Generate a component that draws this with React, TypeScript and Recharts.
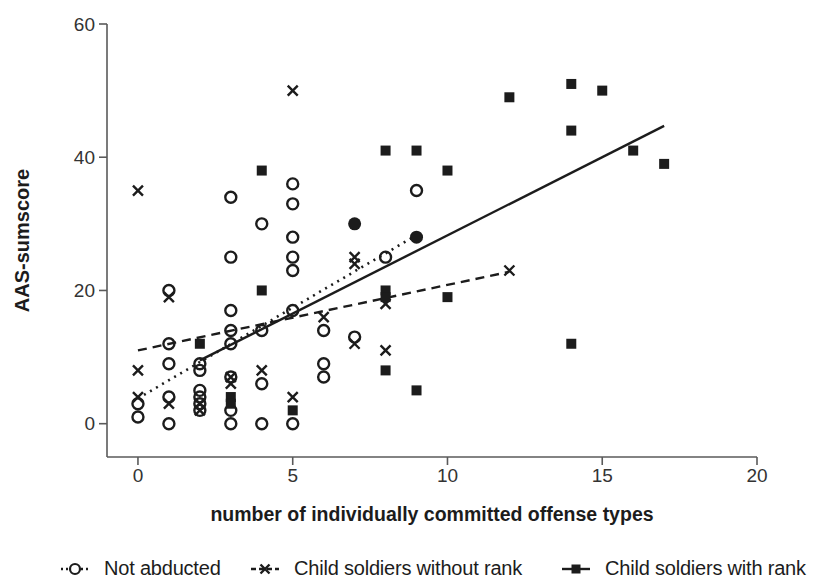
import { ScatterChart, Scatter, XAxis, YAxis, Legend } from "recharts";

const ink = "#1c1c1c";
const axisGray = "#5a5a5a";
const font = "'Liberation Sans', Arial, sans-serif";

// [offense types, AAS-sumscore]
const notAbducted = [
  [0, 3], [0, 1],
  [1, 20], [1, 12], [1, 9], [1, 4], [1, 0],
  [2, 9], [2, 8], [2, 5], [2, 4], [2, 3], [2, 2],
  [3, 34], [3, 25], [3, 17], [3, 14], [3, 12], [3, 7], [3, 2], [3, 0],
  [4, 30], [4, 14], [4, 6], [4, 0],
  [5, 36], [5, 33], [5, 28], [5, 25], [5, 23], [5, 17], [5, 0],
  [6, 14], [6, 9], [6, 7],
  [7, 13], [8, 25], [9, 35],
];
const withoutRank = [
  [0, 35], [0, 8], [0, 4],
  [1, 19], [1, 3],
  [2, 3], [2, 2],
  [3, 7], [3, 6],
  [4, 8],
  [5, 50], [5, 4],
  [6, 16],
  [7, 25], [7, 24], [7, 12],
  [8, 18], [8, 11],
  [12, 23],
];
const withRank = [
  [2, 12], [3, 4], [3, 3], [4, 38], [4, 20], [5, 2],
  [8, 41], [8, 20], [8, 19], [8, 8], [9, 41], [9, 5],
  [10, 38], [10, 19], [12, 49], [14, 51], [14, 44], [14, 12],
  [15, 50], [16, 41], [17, 39],
];
// overlapping points drawn filled in the original
const overlapping = [[7, 30], [9, 28]];

// regression line end points
const fitNotAbducted = [[0, 3.8], [9, 28.3]];
const fitWithoutRank = [[0, 11], [12, 22.8]];
const fitWithRank = [[2, 9.5], [17, 44.7]];

const xTicks = [0, 5, 10, 15, 20];
const yTicks = [0, 20, 40, 60];

const toPts = (arr: number[][]) => arr.map(([x, y]) => ({ x, y }));

const OpenCircle = (p: any) => (
  <circle cx={p.cx} cy={p.cy} r={5.5} fill="none" stroke={ink} strokeWidth={2.4} />
);
const FilledCircle = (p: any) => <circle cx={p.cx} cy={p.cy} r={6.5} fill={ink} />;
const Cross = (p: any) => (
  <path
    d={`M${p.cx - 5},${p.cy - 5}L${p.cx + 5},${p.cy + 5}M${p.cx + 5},${p.cy - 5}L${p.cx - 5},${p.cy + 5}`}
    stroke={ink}
    strokeWidth={2.4}
    fill="none"
  />
);
const Square = (p: any) => <rect x={p.cx - 5} y={p.cy - 5} width={10} height={10} fill={ink} />;
const Nothing = () => <g />;

const legendItems = [
  { label: "Not abducted", dash: "2 3", mark: "circle", width: 190 },
  { label: "Child soldiers without rank", dash: "5 3", mark: "cross", width: 311 },
  { label: "Child soldiers with rank", dash: "", mark: "square", width: 256 },
];

function LegendIcon({ dash, mark }: { dash: string; mark: string }) {
  return (
    <svg width={30} height={20} style={{ marginRight: 14 }}>
      <line x1={1} y1={10} x2={29} y2={10} stroke={ink} strokeWidth={2.4} strokeDasharray={dash || undefined} />
      {mark === "circle" && <circle cx={15} cy={10} r={5} fill="#fff" stroke={ink} strokeWidth={2.2} />}
      {mark === "cross" && <path d="M10.5,5.5L19.5,14.5M19.5,5.5L10.5,14.5" stroke={ink} strokeWidth={2.4} />}
      {mark === "square" && <rect x={10.5} y={5.5} width={9} height={9} fill={ink} />}
    </svg>
  );
}

function renderLegend() {
  return (
    <div style={{ display: "flex", alignItems: "center", paddingLeft: 60, fontFamily: font, fontSize: 20, color: ink, whiteSpace: "nowrap" }}>
      {legendItems.map((it) => (
        <div key={it.label} style={{ display: "flex", alignItems: "center", width: it.width }}>
          <LegendIcon dash={it.dash} mark={it.mark} />
          <span style={{ letterSpacing: -0.2 }}>{it.label}</span>
        </div>
      ))}
    </div>
  );
}

export default function App() {
  return (
    <div style={{ position: "absolute", left: 0, top: 0, background: "#fff" }}>
      <ScatterChart width={817} height={580} margin={{ top: 24, right: 60, bottom: 0, left: 0 }}>
        <XAxis
          type="number"
          dataKey="x"
          domain={[-1, 20]}
          ticks={xTicks}
          allowDataOverflow
          height={123}
          tickSize={8}
          tickMargin={4}
          stroke={axisGray}
          strokeWidth={1.6}
          tick={{ fill: "#333", fontSize: 19, fontFamily: font }}
          label={{
            value: "number of individually committed offense types",
            position: "insideTop",
            offset: 50,
            style: { fill: ink, fontSize: 19.5, fontWeight: 700, fontFamily: font },
          }}
        />
        <YAxis
          type="number"
          dataKey="y"
          domain={[-5, 60]}
          ticks={yTicks}
          allowDataOverflow
          width={107}
          tickSize={8}
          tickMargin={4}
          stroke={axisGray}
          strokeWidth={1.6}
          tick={{ fill: "#333", fontSize: 19, fontFamily: font }}
          label={{
            value: "AAS-sumscore",
            angle: -90,
            position: "insideLeft",
            offset: 22,
            style: { textAnchor: "middle", fill: ink, fontSize: 20, fontWeight: 700, fontFamily: font },
          }}
        />
        <Scatter data={toPts(fitNotAbducted)} line={{ stroke: ink, strokeWidth: 2.6, strokeDasharray: "2 5" }} shape={Nothing} legendType="none" isAnimationActive={false} />
        <Scatter data={toPts(fitWithoutRank)} line={{ stroke: ink, strokeWidth: 2.4, strokeDasharray: "9 6" }} shape={Nothing} legendType="none" isAnimationActive={false} />
        <Scatter data={toPts(fitWithRank)} line={{ stroke: ink, strokeWidth: 2.4 }} shape={Nothing} legendType="none" isAnimationActive={false} />
        <Scatter name="Not abducted" data={toPts(notAbducted)} shape={OpenCircle} isAnimationActive={false} />
        <Scatter name="Child soldiers without rank" data={toPts(withoutRank)} shape={Cross} isAnimationActive={false} />
        <Scatter name="Child soldiers with rank" data={toPts(withRank)} shape={Square} isAnimationActive={false} />
        <Scatter data={toPts(overlapping)} shape={FilledCircle} legendType="none" isAnimationActive={false} />
        <Legend
          verticalAlign="middle"
          content={renderLegend}
          wrapperStyle={{ top: 557, left: 0, width: 817, height: 26 }}
        />
      </ScatterChart>
    </div>
  );
}
